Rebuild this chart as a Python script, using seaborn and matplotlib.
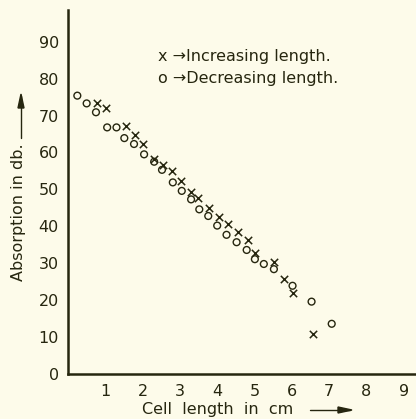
import numpy as np
import pandas as pd
import seaborn as sns
import matplotlib.pyplot as plt

# --- data ---
inc_len = [0.77, 1.02, 1.55, 1.80, 2.00, 2.31, 2.54, 2.78, 3.03, 3.29, 3.49,
           3.78, 4.06, 4.28, 4.55, 4.82, 5.01, 5.52, 5.80, 6.02, 6.56]
inc_db = [73.5, 72.0, 67.2, 64.8, 62.2, 58.3, 56.6, 54.9, 52.3, 49.2, 47.6,
          45.1, 42.6, 40.5, 38.4, 36.3, 32.9, 30.4, 25.7, 22.0, 10.8]

dec_len = [0.25, 0.50, 0.75, 1.05, 1.30, 1.51, 1.77, 2.04, 2.31, 2.52, 2.81,
           3.05, 3.30, 3.52, 3.76, 4.00, 4.25, 4.52, 4.79, 5.01, 5.25, 5.52,
           6.02, 6.53, 7.07]
dec_db = [75.4, 73.3, 70.9, 66.8, 66.8, 63.9, 62.3, 59.5, 57.5, 55.3, 51.9,
          49.6, 47.3, 44.6, 42.8, 40.2, 37.7, 35.7, 33.6, 31.1, 29.8, 28.4,
          23.9, 19.6, 13.6]

x_ticks = [1, 2, 3, 4, 5, 6, 7, 8, 9]
y_ticks = [0, 10, 20, 30, 40, 50, 60, 70, 80, 90]

df_inc = pd.DataFrame({'length': inc_len, 'db': inc_db})
df_dec = pd.DataFrame({'length': dec_len, 'db': dec_db})

# --- style ---
sns.set_style("white")
plt.rcParams['font.family'] = ['DejaVu Sans']
bg = '#fdfbea'
ink = '#26260f'

fig = plt.figure(figsize=(4.16, 4.19), dpi=100, facecolor=bg)
ax = fig.add_axes([68 / 416, 45 / 419, 348 / 416, 364 / 419])
ax.set_facecolor(bg)

sns.scatterplot(data=df_inc, x='length', y='db', marker='x', s=28,
                color=ink, linewidth=1.1, ax=ax)
sns.scatterplot(data=df_dec, x='length', y='db', marker='o', s=24,
                facecolor='none', edgecolor=ink, linewidth=1.0, ax=ax)

ax.set_xlim(0, 9.33)
ax.set_ylim(0, 98.6)
ax.set_xticks(x_ticks)
ax.set_yticks(y_ticks)
ax.tick_params(direction='inout', length=7, width=1.2, color=ink,
               labelcolor=ink, labelsize=11.5)
ax.tick_params(axis='x', pad=4)
ax.tick_params(axis='y', pad=3)
for side in ['top', 'right']:
    ax.spines[side].set_visible(False)
for side in ['left', 'bottom']:
    ax.spines[side].set_color(ink)
    ax.spines[side].set_linewidth(1.8)
ax.set_xlabel('')
ax.set_ylabel('')

# legend written as text, like the original
ax.text(2.4, 86.0, 'x \u2192Increasing length.', fontsize=11.5, color=ink,
        va='center', ha='left')
ax.text(2.4, 80.0, 'o \u2192Decreasing length.', fontsize=11.5, color=ink,
        va='center', ha='left')

# axis labels with arrows
fig.text(218 / 416, 1 - 409 / 419, 'Cell  length  in  cm', fontsize=11.5,
         color=ink, ha='center', va='center')
fig.add_artist(plt.Line2D([310 / 416, 350 / 416], [1 - 410 / 419, 1 - 410 / 419],
                          color=ink, lw=1.0))
fig.patches.append(plt.Polygon([[338 / 416, 1 - 407 / 419], [352 / 416, 1 - 410 / 419],
                                [338 / 416, 1 - 413 / 419]], closed=True,
                               transform=fig.transFigure, color=ink))

fig.text(19 / 416, 1 - 212 / 419, 'Absorption in db.', fontsize=11.5,
         color=ink, ha='center', va='center', rotation=90)
fig.add_artist(plt.Line2D([21 / 416, 21 / 416], [1 - 138 / 419, 1 - 96 / 419],
                          color=ink, lw=1.0))
fig.patches.append(plt.Polygon([[18 / 416, 1 - 108 / 419], [21 / 416, 1 - 94 / 419],
                                [24 / 416, 1 - 108 / 419]], closed=True,
                               transform=fig.transFigure, color=ink))

fig.savefig('out.png', dpi=100, facecolor=bg)
